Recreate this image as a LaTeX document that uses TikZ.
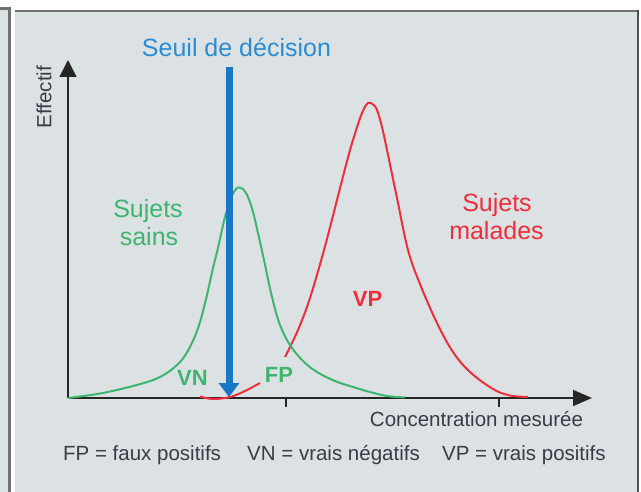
\documentclass[tikz,border=0pt]{standalone}
\usepackage{fontspec}
\setmainfont{Liberation Sans}
\usetikzlibrary{arrows.meta}
\definecolor{panelbg}{HTML}{DCE2E4}
\definecolor{seuilblue}{HTML}{1878C6}
\definecolor{seuiltext}{HTML}{2A8CD4}
\definecolor{sainsgreen}{HTML}{3DB56E}
\definecolor{maladered}{HTML}{EE2E3A}
\definecolor{inkdark}{HTML}{3B3B47}
\definecolor{axisink}{HTML}{262626}
\definecolor{frameline}{HTML}{707070}
\begin{document}
\begin{tikzpicture}[x=1pt,y=-1pt,
  lbl/.style={inner sep=0pt, anchor=base},
  bigfont/.style={font=\fontsize{25}{28}\selectfont},
  tagfont/.style={font=\fontsize{22}{24}\selectfont\bfseries},
  smallfont/.style={font=\fontsize{20.5}{24}\selectfont, text=inkdark},
  axisline/.style={draw=axisink, line width=1.5pt},
  tickline/.style={draw=axisink, line width=1.3pt},
  curvesains/.style={draw=sainsgreen, line width=2pt, line join=round},
  curvemalade/.style={draw=maladered, line width=2pt, line join=round}]
\useasboundingbox (0,0) rectangle (641,492);
\fill[white] (0,0) rectangle (641,492);
% left strip
\fill[panelbg] (0,8) rectangle (10,492);
\draw[frameline, line width=2.2pt] (0,8.5) -- (9.5,8.5) -- (9.5,492);
% main panel
\fill[panelbg] (15,10) rectangle (639,492);
\draw[frameline, line width=2.5pt] (15,11) -- (638,11);
\draw[axisink!80, line width=2pt] (638,10) -- (638,492);
% axes
\coordinate (origin) at (68,398);
\coordinate (ytip) at (68,60);
\coordinate (xtip) at (592,398);
\draw[axisline, -{Triangle[width=17pt,length=17pt]}] (origin) -- (ytip);
\draw[axisline, -{Triangle[width=16pt,length=19pt]}] (origin) -- (xtip);
\coordinate (tickA) at (286,398);
\coordinate (tickAe) at (286,407);
\coordinate (tickB) at (499,398);
\coordinate (tickBe) at (499,407);
\draw[tickline] (tickA) -- (tickAe);
\draw[tickline] (tickB) -- (tickBe);
% red curve (malades), lower and upper pieces
\draw[curvemalade] plot[smooth, tension=0.6] coordinates {
 (200,396.5) (213,399) (230,397) (245,391) (260,383)};
\draw[curvemalade] plot[smooth, tension=0.6] coordinates {
 (285,357) (298,330) (310,298) (324,250) (337,200) (346,165) (353,140)
 (362,113) (368,103) (373,104.5) (377,110) (382,127) (387,150) (397,198)
 (408,250) (420,284) (437,323) (453,352) (470,372) (493,389) (510,395.5) (528,397)};
% green curve (sains)
\draw[curvesains] plot[smooth, tension=0.6] coordinates {
 (68,398) (100,393.5) (133,386) (160,377) (180,362) (192,343) (200,322)
 (207,295) (213,268) (218,248) (225,217) (231,198) (236,189) (239.5,187.5)
 (243,189) (248,197) (253,212) (258,233) (264,260) (272,297) (280,325)
 (290,345) (303,361) (317,372) (335,381) (353,387) (370,392) (387,396) (405,397.5)};
% decision threshold
\coordinate (seuiltop) at (229,67);
\coordinate (seuilfoot) at (229,397);
\draw[seuilblue, line width=7pt, -{Triangle[width=20pt,length=14pt]}] (seuiltop) -- (seuilfoot);
% labels
\node[lbl, bigfont, text=seuiltext] (seuil) at (236.5,57) {Seuil de décision};
\node[lbl, smallfont, rotate=90, anchor=center] (effectif) at (44,97) {Effectif};
\node[lbl, bigfont, text=sainsgreen] (sainsA) at (148,218) {Sujets};
\node[lbl, bigfont, text=sainsgreen] (sainsB) at (149,246) {sains};
\node[lbl, bigfont, text=maladered] (maladesA) at (497,212) {Sujets};
\node[lbl, bigfont, text=maladered] (maladesB) at (496.5,240) {malades};
\node[lbl, tagfont, text=sainsgreen] (vn) at (192.5,385) {VN};
\node[lbl, tagfont, text=sainsgreen] (fp) at (279,382) {FP};
\node[lbl, tagfont, text=maladered] (vp) at (367.5,307) {VP};
\node[lbl, smallfont] (conc) at (476.5,426) {Concentration mesurée};
\node[lbl, smallfont, anchor=base west] (legfp) at (63,460) {FP = faux positifs};
\node[lbl, smallfont, anchor=base west] (legvn) at (247,460) {VN = vrais négatifs};
\node[lbl, smallfont, anchor=base west] (legvp) at (442,460) {VP = vrais positifs};
\end{tikzpicture}
\end{document}
